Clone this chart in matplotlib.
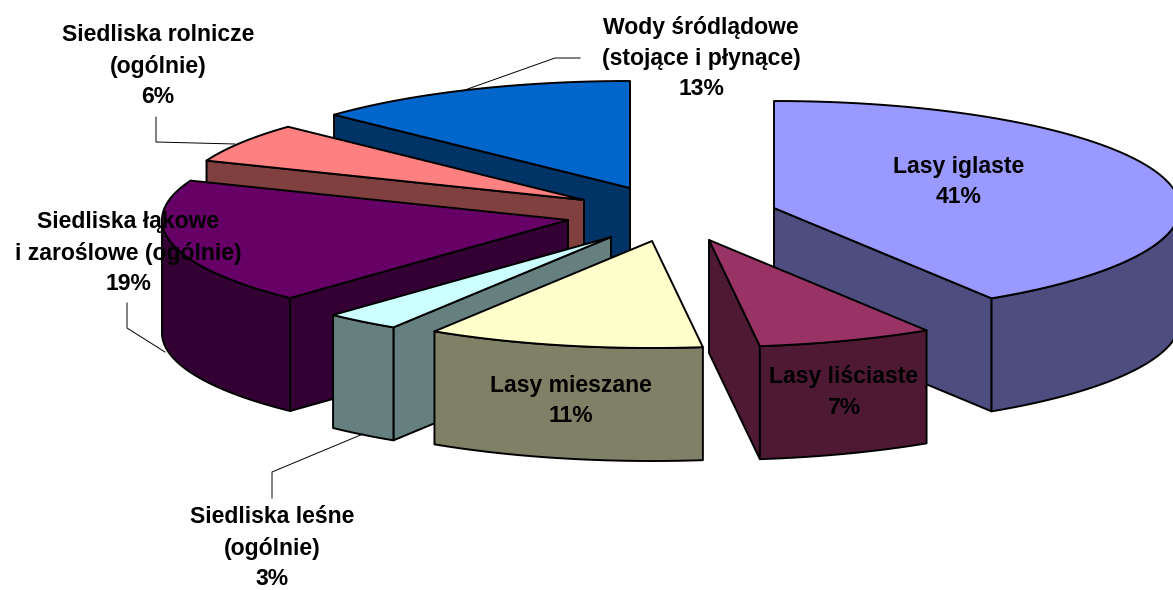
import numpy as np
import matplotlib
matplotlib.use('Agg')
import matplotlib.pyplot as plt
from matplotlib.patches import Polygon

plt.rcParams['font.family'] = ['Liberation Sans', 'DejaVu Sans']
plt.rcParams['text.hinting'] = 'no_autohint'

# dane: udzial siedlisk w procentach, zaczynajac od gory, zgodnie z zegarem
labels = ['Lasy iglaste', 'Lasy liściaste', 'Lasy mieszane',
          'Siedliska leśne\n(ogólnie)', 'Siedliska łąkowe\ni zaroślowe (ogólnie)',
          'Siedliska rolnicze\n(ogólnie)', 'Wody śródlądowe\n(stojące i płynące)']
shares = [41, 7, 11, 3, 19, 6, 13]

top_colors = ['#9999FF', '#993366', '#FFFFCC', '#CCFFFF', '#660066', '#FF8080', '#0066CC']
side_colors = ['#4D4D80', '#4D1933', '#808066', '#668080', '#330033', '#804040', '#003366']

# pozycje wysunietych kawalkow i etykiet (piksele)
centers = [(774, 208), (709, 240), (652, 241), (611, 237), (568, 220), (584, 200), (630, 188)]
label_pos = [(959, 182), (844, 392), (571, 401), (272, 548), (128, 253), (158, 66), (701, 58)]
leaders = [[(580, 58), (555, 58), (462, 91)],
           [(156, 117), (156, 142), (235, 144)],
           [(127, 303), (127, 328), (165, 352)],
           [(272, 498), (272, 472), (363, 434)]]

RX, RY, DEPTH = 406, 107, 113
draw_order = [6, 5, 4, 3, 2, 0, 1]

fig = plt.figure(figsize=(11.73, 5.9), dpi=100)
ax = fig.add_axes([0, 0, 1, 1])
ax.set_xlim(0, 1173)
ax.set_ylim(590, 0)
ax.axis('off')


def rim(c, deg):
    t = np.radians(deg)
    return np.column_stack([c[0] + RX * np.sin(t), c[1] - RY * np.cos(t)])


def add_poly(pts, color):
    ax.add_patch(Polygon(pts, closed=True, facecolor=color, edgecolor='black',
                         linewidth=1.4, joinstyle='round'))


def draw_slice(i, start, end):
    c = centers[i]
    down = np.array([0, DEPTH])
    apex = np.array([c])
    # sciany boczne wzdluz promienia
    for deg, visible in ((start, np.sin(np.radians(start)) < 0),
                         (end, np.sin(np.radians(end)) > 0)):
        if visible:
            p = rim(c, np.array([deg]))
            add_poly(np.vstack([apex, p, p + down, apex + down]), side_colors[i])
    # widoczna czesc obrzeza
    lo, hi = max(start, 90), min(end, 270)
    if lo < hi:
        arc = rim(c, np.linspace(lo, hi, 80))
        add_poly(np.vstack([arc, arc[::-1] + down]), side_colors[i])
    # wierzch
    add_poly(np.vstack([apex, rim(c, np.linspace(start, end, 120))]), top_colors[i])


edges = np.concatenate([[0], np.cumsum(shares)]) * 360.0 / sum(shares)
for i in draw_order:
    draw_slice(i, edges[i], edges[i + 1])

for line in leaders:
    xs, ys = zip(*line)
    ax.plot(xs, ys, color='black', linewidth=0.7)

for i, (name, val) in enumerate(zip(labels, shares)):
    ax.text(label_pos[i][0], label_pos[i][1], f'{name}\n{val}%', ha='center', va='center',
            fontsize=16.5, fontweight='bold', color='black', linespacing=1.5)

fig.savefig('out.png', dpi=100)
